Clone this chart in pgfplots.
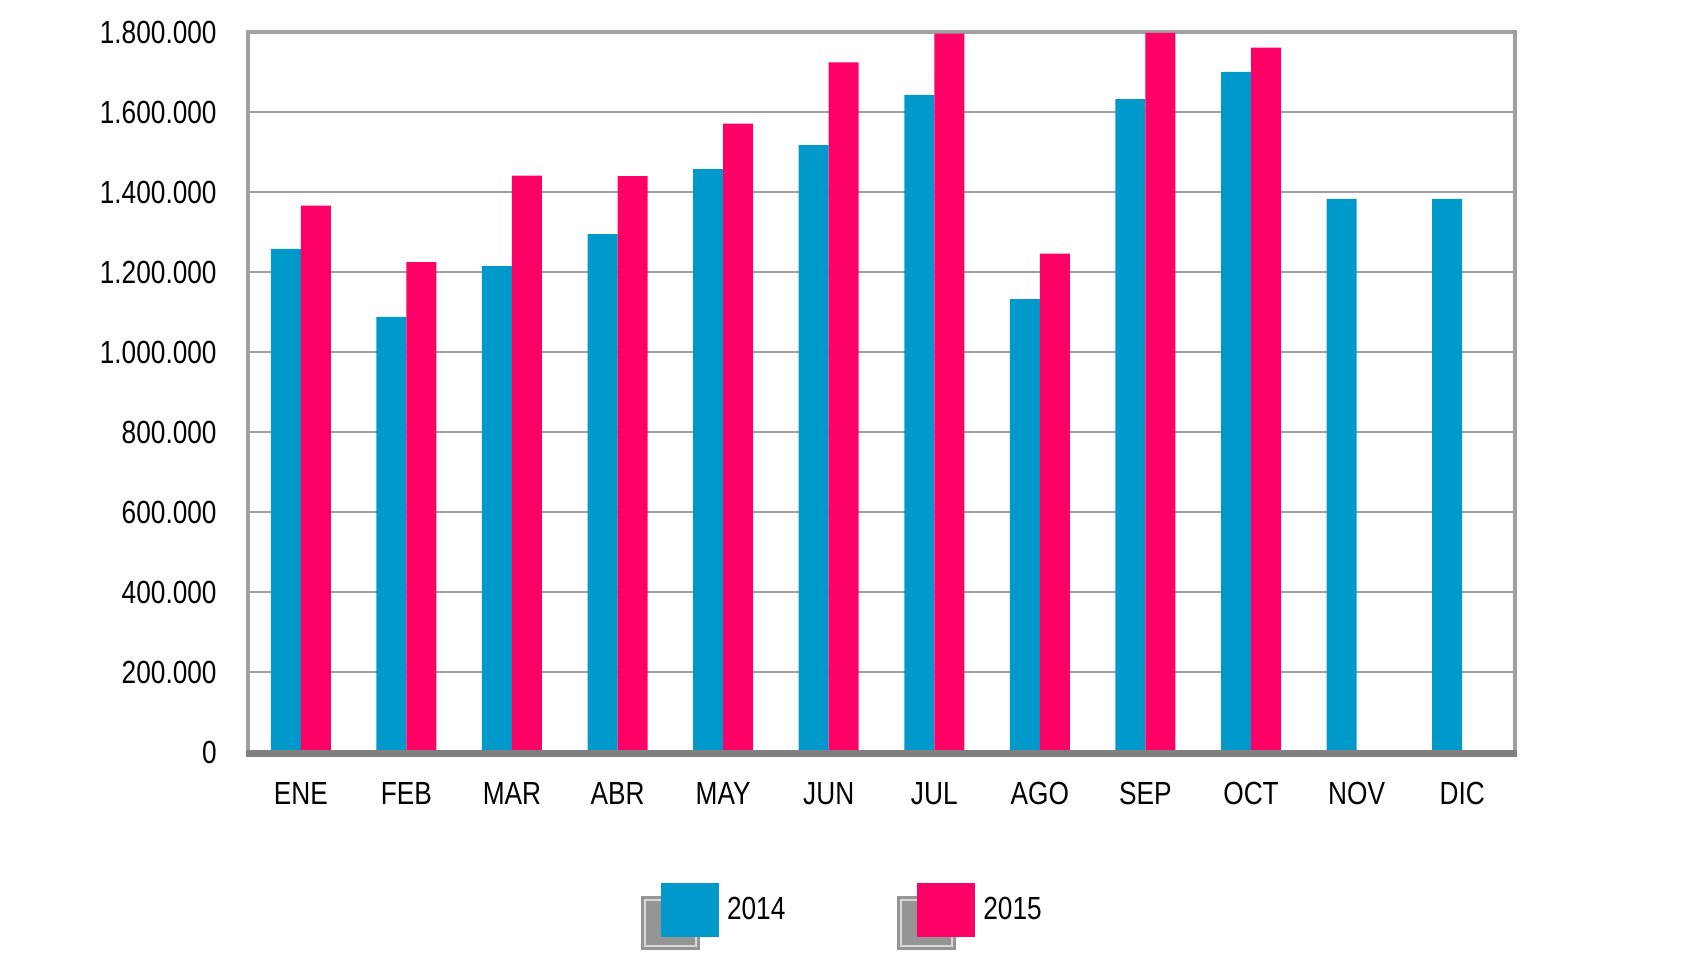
\documentclass[border=0pt]{standalone}
\usepackage{fontspec}
\setmainfont[FakeStretch=0.82]{Liberation Sans}
\usepackage{pgfplots}
\pgfplotsset{compat=1.18}
\definecolor{c14}{HTML}{0099CC}
\definecolor{c15}{HTML}{FF0066}
\definecolor{gridc}{HTML}{A0A0A0}
\definecolor{axdark}{HTML}{808080}
\definecolor{legshadow}{HTML}{959595}
\definecolor{leginner}{HTML}{D8D8D8}
\begin{document}
\begin{tikzpicture}
\useasboundingbox (-124pt,-104pt) rectangle (729pt,376pt);
\begin{axis}[
  at={(0,0)}, anchor=south west,
  scale only axis, width=633.5pt, height=360pt,
  xmin=-0.5, xmax=11.5, ymin=0, ymax=1800000,
  ybar=0pt, bar width=15pt,
  xtick={0,...,11},
  xticklabels={ENE,FEB,MAR,ABR,MAY,JUN,JUL,AGO,SEP,OCT,NOV,DIC},
  ytick={0,200000,400000,600000,800000,1000000,1200000,1400000,1600000,1800000},
  scaled y ticks=false,
  /pgf/number format/fixed,
  /pgf/number format/1000 sep={.},
  /pgf/number format/assume math mode=true,
  ticklabel style={font=\fontsize{16}{19}\selectfont, text=black, inner sep=0pt},
  yticklabel style={xshift=-15.5pt},
  xticklabel style={yshift=-15pt},
  major tick length=0pt,
  ymajorgrids, grid style={gridc, line width=1.35pt},
  axis line style={gridc, line width=2pt},
  clip=false,
  legend columns=2,
  legend style={at={(0.3102,-0.275)}, anchor=south west, draw=none, fill=none,
    inner sep=0pt, outer sep=0pt, font=\fontsize{16}{19}\selectfont,
    cells={anchor=west}, nodes={inner sep=0pt},
    /tikz/every odd column/.append style={column sep=4pt},
    /tikz/every even column/.append style={column sep=56pt}},
  legend image code/.code={
    \path[fill=legshadow, draw=none] (0pt,-20pt) rectangle (29.5pt,7pt);
    \path[draw=leginner, fill=none, line width=0.9pt] (2pt,-18pt) rectangle (27.5pt,5pt);
    \path[#1, draw=none] (10pt,-13.5pt) rectangle (39pt,13.5pt);
  },
  after end axis/.code={
    \draw[axdark, line width=3.5pt] ([yshift=-0.9pt,xshift=-1pt]rel axis cs:0,0) -- ([yshift=-0.9pt,xshift=1pt]rel axis cs:1,0);
  },
]
\addplot[fill=c14, draw=none] coordinates {
  (0,1258000) (1,1088000) (2,1215000) (3,1295000) (4,1457000) (5,1517000)
  (6,1643000) (7,1132000) (8,1632000) (9,1700000) (10,1383000) (11,1383000)};
\addplot[fill=c15, draw=none] coordinates {
  (0,1366000) (1,1225000) (2,1441000) (3,1440000) (4,1571000) (5,1724000)
  (6,1796000) (7,1246000) (8,1798000) (9,1761000)};
\legend{2014,2015}
\end{axis}
\end{tikzpicture}
\end{document}
